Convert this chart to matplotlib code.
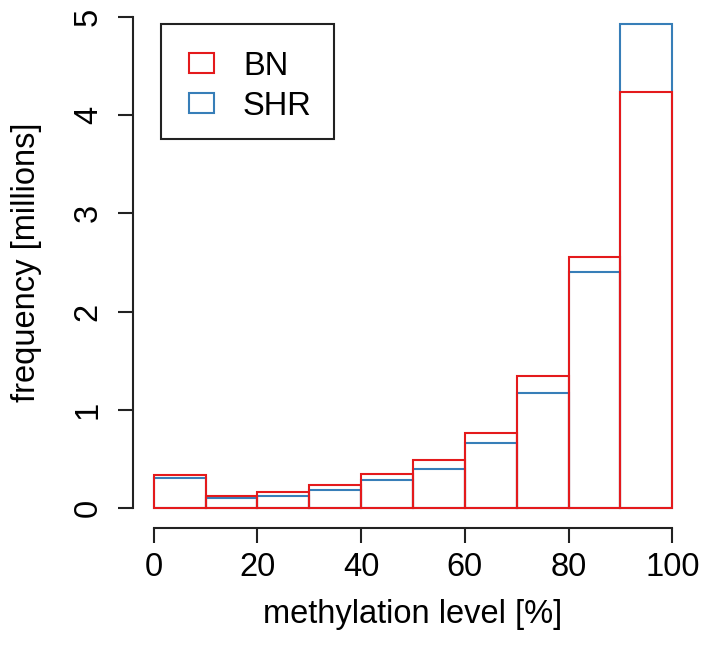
import matplotlib
matplotlib.use("Agg")
import matplotlib.pyplot as plt
from matplotlib.patches import Rectangle

plt.rcParams['font.family'] = ['Liberation Sans', 'DejaVu Sans']

# bin left edges (%), frequencies in millions
bin_left = [0, 10, 20, 30, 40, 50, 60, 70, 80, 90]
bn = [0.336, 0.125, 0.163, 0.234, 0.350, 0.490, 0.770, 1.344, 2.556, 4.23]
shr = [0.310, 0.105, 0.125, 0.183, 0.290, 0.400, 0.660, 1.174, 2.406, 4.93]
x_ticks = [0, 20, 40, 60, 80, 100]
y_ticks = [0, 1, 2, 3, 4, 5]
series_names = ['BN', 'SHR']

red = "#E41A1C"
blue = "#377EB8"
fs = 23.5
W, H = 704, 647

fig = plt.figure(figsize=(7.04, 6.47), dpi=100)
ax = fig.add_axes([133 / W, 1 - 528 / H, (693 - 133) / W, (528 + 3) / H])

ax.bar(bin_left, shr, width=10, align='edge', fill=False, edgecolor=blue, linewidth=1.5)
ax.bar(bin_left, bn, width=10, align='edge', fill=False, edgecolor=red, linewidth=1.5)

ax.set_xlim(-4, 104)
ax.set_ylim(-0.2, 5.2)
ax.spines['top'].set_visible(False)
ax.spines['right'].set_visible(False)
ax.spines['left'].set_bounds(0, 5)
ax.spines['bottom'].set_bounds(0, 100)
for s in ('left', 'bottom'):
    ax.spines[s].set_linewidth(1.5)
    ax.spines[s].set_color('#222222')

ax.set_xticks(x_ticks)
ax.set_yticks(y_ticks)
ax.tick_params(axis='both', length=11, width=1.5, color='#222222', labelsize=fs)
ax.tick_params(axis='x', pad=6)
ax.tick_params(axis='y', pad=10)
for lab in ax.get_yticklabels():
    lab.set_rotation(90)
    lab.set_va('center')

ax.set_xlabel("methylation level [%]", fontsize=fs, labelpad=12)
ax.set_ylabel("frequency [millions]", fontsize=fs, labelpad=22)

# legend box, R style (drawn in figure pixel coordinates)
def px(x, y):
    return x / W, 1 - y / H

fig.patches.append(Rectangle(px(161, 139), 173 / W, 115 / H, transform=fig.transFigure,
                             fill=False, edgecolor='#222222', linewidth=1.5))
for i, (name, col) in enumerate(zip(series_names, [red, blue])):
    yc = 63 + 40 * i
    fig.patches.append(Rectangle(px(189, yc + 10), 25 / W, 20 / H, transform=fig.transFigure,
                                 fill=False, edgecolor=col, linewidth=1.5))
    fig.text(*px(243, yc), name, fontsize=fs, va='center_baseline', ha='left')

fig.savefig("out.png", dpi=100)
